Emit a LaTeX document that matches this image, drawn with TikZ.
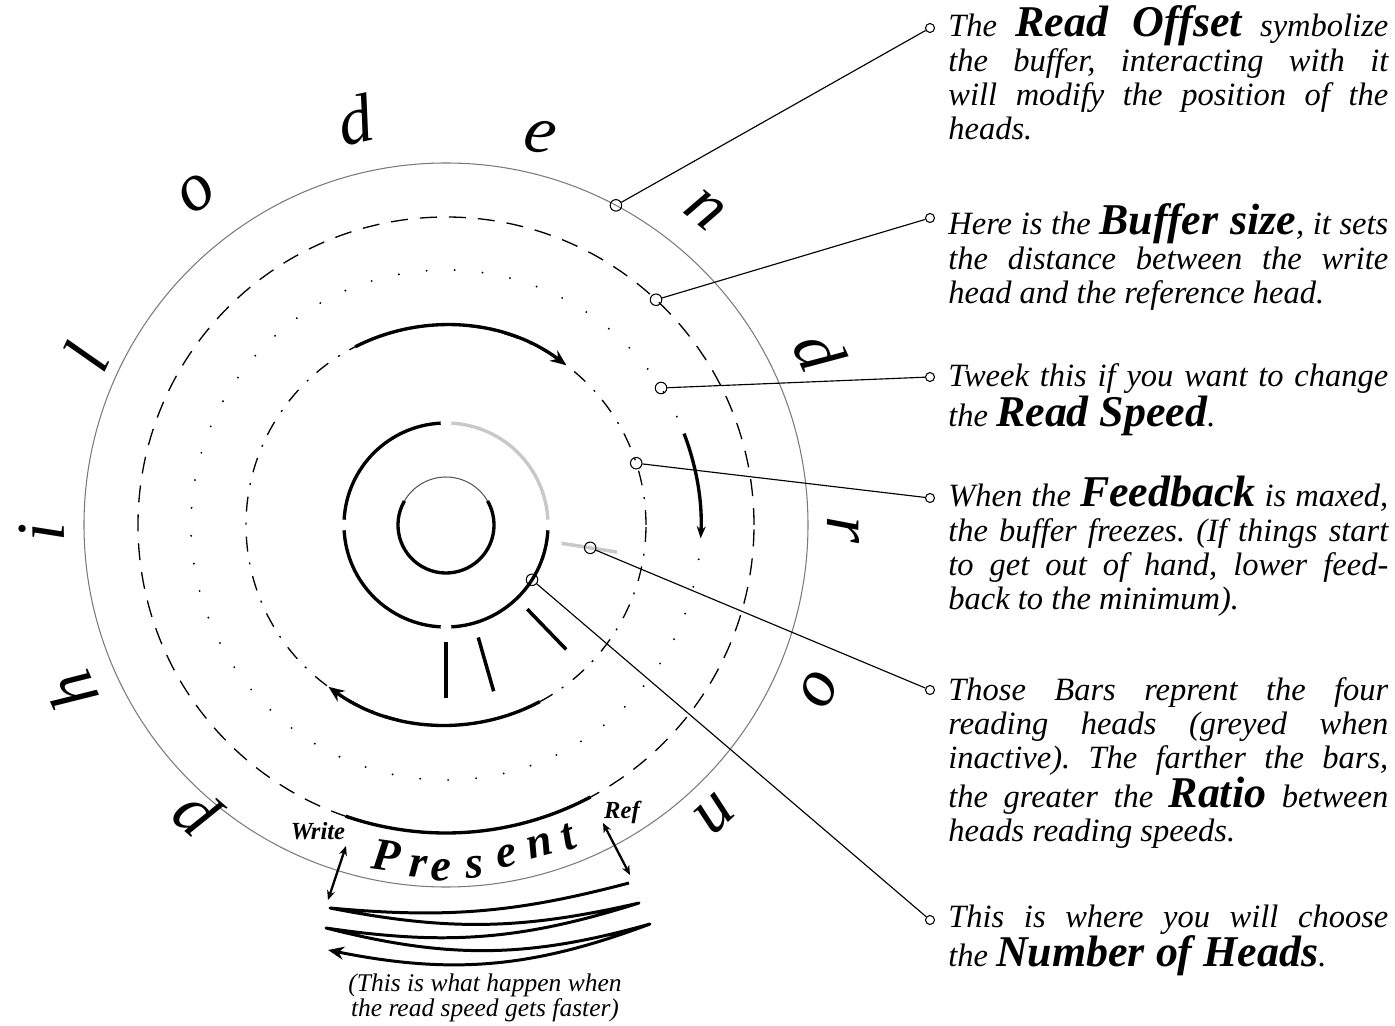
\documentclass[tikz,border=0pt]{standalone}
\usepackage{fontspec}
\setmainfont{Liberation Serif}
\usepackage{tikz}
\usepackage{xcolor}
\usetikzlibrary{arrows.meta,positioning}
\definecolor{ink}{HTML}{000000}
\definecolor{rimgray}{HTML}{7A7A7A}
\definecolor{offgray}{HTML}{C8C8C8}
\definecolor{thingray}{HTML}{555555}
\newcommand{\kw}[1]{{\fontsize{25}{19.5}\selectfont\bfseries #1}}
\frenchspacing
\tikzset{
  rim/.style={draw=rimgray,line width=0.6pt},
  sizering/.style={draw=ink,line width=0.75pt,dash pattern=on 0.34cm off 0.24cm},
  speedring/.style={draw=ink,line width=1.2pt,line cap=round,
                    dash pattern=on 0pt off 0.56cm},
  fbring/.style={draw=ink,line width=0.75pt,
                 dash pattern=on 0.3cm off 0.22cm on 0.04cm off 0.24cm},
  heavy/.style={draw=ink,line width=1.9pt},
  bar/.style={draw=ink,line width=2pt},
  bigtip/.style={-{Stealth[length=3.2mm,width=2.6mm]}},
  smalltip/.style={-{Stealth[length=2.4mm,width=1.8mm]}},
  swirl/.style={draw=ink,line width=1.7pt,line join=round,
                -{Stealth[length=3.2mm,width=2.6mm]}},
  headarr/.style={draw=ink,line width=1.3pt,
                  {Stealth[length=1.9mm,width=1.6mm]}-{Stealth[length=1.9mm,width=1.6mm]}},
  knobmark/.style={circle,draw=ink,line width=0.6pt,minimum size=0.23cm,inner sep=0pt},
  tabmark/.style={circle,draw=ink,line width=0.6pt,minimum size=0.18cm,inner sep=0pt},
  leader/.style={draw=ink,line width=0.65pt},
  note/.style={anchor=base west,text width=8.8cm,align=justify,inner sep=0pt,
               font=\fontsize{18.5}{19.5}\selectfont\itshape},
  caption/.style={align=center,inner sep=0pt,
                  font=\fontsize{14.5}{14.5}\selectfont\itshape},
  headtag/.style={inner sep=0pt,font=\fontsize{14}{14}\selectfont\bfseries\itshape},
  present/.style={inner sep=0pt,font=\fontsize{26}{26}\selectfont\bfseries\itshape},
  letter/.style={inner sep=0pt,font=\fontsize{39}{39}\selectfont\itshape}
}

\begin{document}
\begin{tikzpicture}[x=1cm,y=1cm]
    \path[use as bounding box] (-8.92,-10.02) rectangle (18.98,10.50);
    \coordinate (hub) at (0,0);

    % the rings
    \draw[rim] (hub) circle (7.24);
    \draw[sizering] (hub) circle (6.16);
    \draw[speedring] (hub) circle (5.1);
    \draw[fbring] (hub) circle (4.0);

    % motion arrows along the rings
    \draw[heavy,bigtip] (117:4.0) arc (117:53:4.0);
    \draw[heavy,bigtip] (-62:4.0) arc (-62:-126:4.0);
    \draw[heavy,smalltip] (21:5.1) arc (21:-3:5.1);
    \draw[heavy] (-62:6.16) arc (-62:-109:6.16);

    % number of heads ring and inner disc
    \draw[heavy] (93:2.04) arc (93:177:2.04);
    \draw[heavy,draw=offgray] (3:2.04) arc (3:87:2.04);
    \draw[heavy] (-3:2.04) arc (-3:-87:2.04);
    \draw[heavy] (-93:2.04) arc (-93:-177:2.04);
    \draw[draw=thingray,line width=0.6pt] (30:0.96) arc (30:150:0.96);
    \draw[heavy] (150:0.96) arc (150:390:0.96);

    % reading heads
    \foreach \a in {-46,-74,-90}
      \draw[bar] (\a:2.34) -- (\a:3.46);
    \draw[bar,draw=offgray] (-9:2.34) -- (-9:3.46);

    % the word around the rim
    \foreach \ch/\ang/\rad [count=\k] in {p/-131/7.6,h/-156/8.2,i/-179/8.08,
        l/155/7.95,o/127/8.3,d/102.6/8.3,e/76.4/8.0,n/50.6/8.15,
        d/25/8.25,r/-0.7/7.95,o/-23.8/8.15,n/-47/7.9}
      \node[letter,rotate=\ang-90] (rim\k) at (\ang:\rad) {\ch};

    % present and the two heads
    \foreach \ch/\px/\py/\rot [count=\k] in {P/-1.20/-6.62/-8,r/-0.55/-6.83/-5,
        e/-0.10/-6.91/-2,s/0.57/-6.85/4,e/1.22/-6.63/10,n/1.87/-6.42/15,
        t/2.44/-6.24/20}
      \node[present,rotate=\rot] (pres\k) at (\px,\py) {\ch};
    \node[headtag] (writeTag) at (-2.56,-6.12) {Write};
    \node[headtag] (refTag) at (3.52,-5.74) {Ref};
    \coordinate (wHi) at (-2.0,-6.42);
    \coordinate (wLo) at (-2.36,-7.5);
    \coordinate (rHi) at (3.14,-5.96);
    \coordinate (rLo) at (3.68,-7.0);
    \draw[headarr] (wLo) -- (wHi);
    \draw[headarr] (rHi) -- (rLo);

    % faster read speed: the head laps the buffer
    \coordinate (sw1) at (3.66,-7.16);
    \coordinate (sw2) at (-2.32,-7.66);
    \coordinate (sw3) at (3.86,-7.56);
    \coordinate (sw4) at (-2.40,-8.06);
    \coordinate (sw5) at (4.08,-7.98);
    \coordinate (sw6) at (-2.36,-8.50);
    \draw[swirl] (sw1) to[bend left=10] (sw2) to[bend right=12] (sw3)
      to[bend left=13] (sw4) to[bend right=15] (sw5) to[bend left=16] (sw6);
    \node[caption] (speedNote) at (0.78,-9.46)
      {(This is what happen when\\the read speed gets faster)};

    % markers on the controls
    \node[knobmark] (offsetKnob) at (62:7.24) {};
    \node[knobmark] (bufferKnob) at (47:6.16) {};
    \node[knobmark] (speedKnob) at (32.5:5.1) {};
    \node[knobmark] (feedKnob) at (18:4.0) {};
    \node[knobmark] (barsKnob) at (-9:2.92) {};
    \node[knobmark] (headsKnob) at (-32.5:2.04) {};

    % notes
    \node[tabmark] (offsetTab) at (9.68,9.94) {};
    \node[tabmark] (bufferTab) at (9.68,6.14) {};
    \node[tabmark] (speedTab) at (9.68,2.96) {};
    \node[tabmark] (feedTab) at (9.68,0.54) {};
    \node[tabmark] (barsTab) at (9.68,-3.30) {};
    \node[tabmark] (headsTab) at (9.68,-7.90) {};
    \node[note] (offsetText) at (10.04,9.76)
      {The \kw{Read Offset} symbolize\linebreak the buffer, interacting with it\linebreak
       will modify the position of the\linebreak heads.};
    \node[note] (bufferText) at (10.04,5.8)
      {Here is the \kw{Buffer size}, it sets\linebreak the distance between the write\linebreak
       head and the reference head.};
    \node[note] (speedText) at (10.04,2.76)
      {Tweek this if you want to change\linebreak the \kw{Read Speed}.};
    \node[note] (feedText) at (10.04,0.36)
      {When the \kw{Feedback} is maxed,\linebreak the buffer freezes. (If things start\linebreak
       to get out of hand, lower feed-\linebreak back to the minimum).};
    \node[note] (barsText) at (10.04,-3.5)
      {Those Bars reprent the four\linebreak reading heads (greyed when\linebreak
       inactive). The farther the bars,\linebreak the greater the \kw{Ratio} between\linebreak
       heads reading speeds.};
    \node[note] (headsText) at (10.04,-8.04)
      {This is where you will choose\linebreak the \kw{Number of Heads}.};

    \draw[leader] (offsetTab) -- (offsetKnob);
    \draw[leader] (bufferTab) -- (bufferKnob);
    \draw[leader] (speedTab) -- (speedKnob);
    \draw[leader] (feedTab) -- (feedKnob);
    \draw[leader] (barsTab) -- (barsKnob);
    \draw[leader] (headsTab) -- (headsKnob);
  \end{tikzpicture}
\end{document}
